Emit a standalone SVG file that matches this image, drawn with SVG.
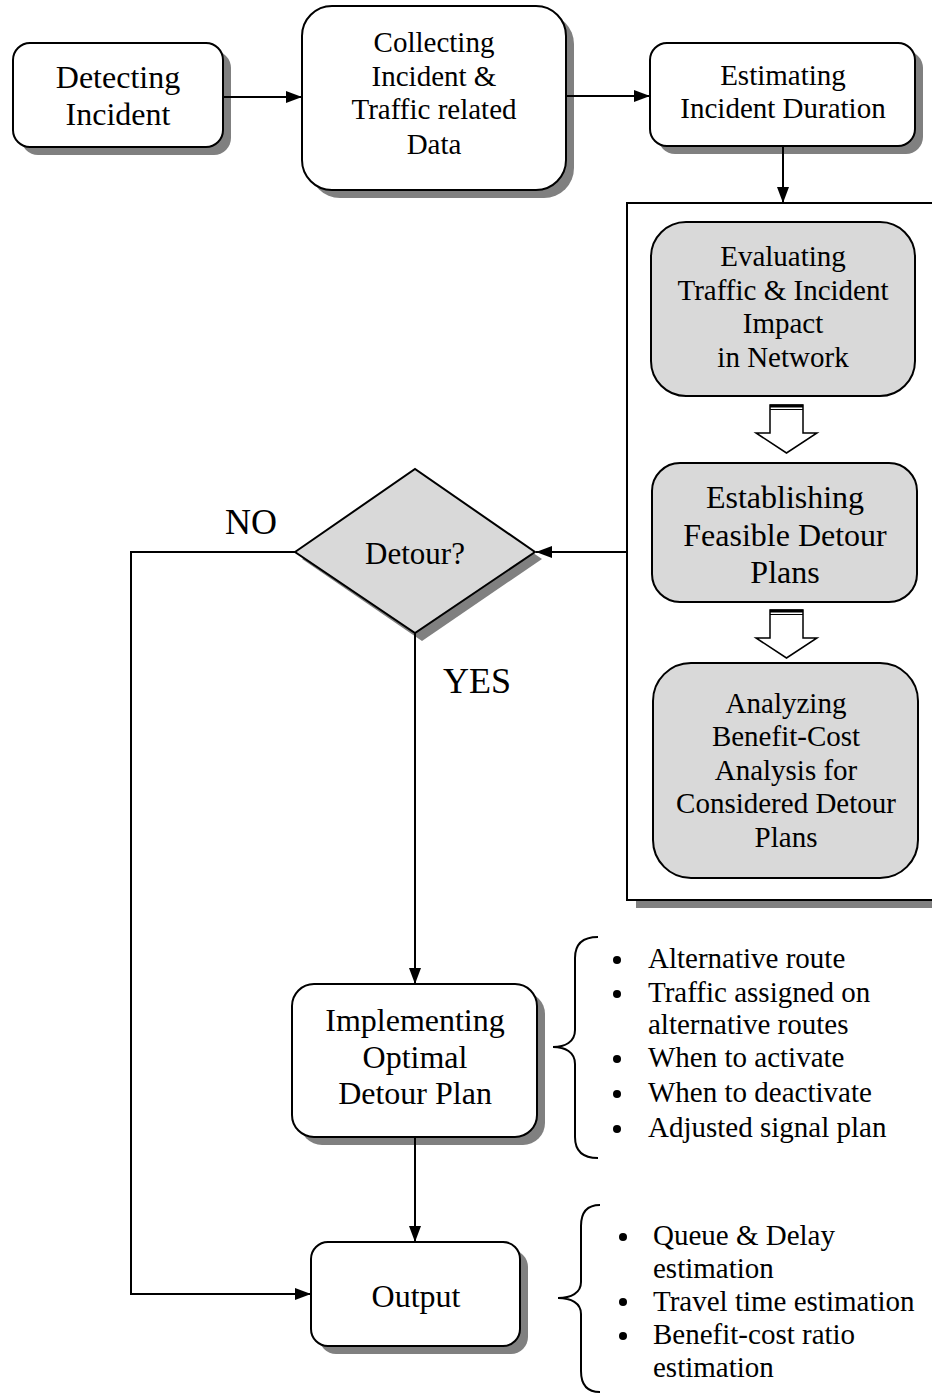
<svg xmlns="http://www.w3.org/2000/svg" width="932" height="1393" viewBox="0 0 932 1393" font-family="Liberation Serif, Times New Roman, serif">
  <style>
    text { fill: #000; text-anchor: middle; }
    .box { fill: #fff; stroke: #000; stroke-width: 2; }
    .gbox { fill: #d9d9d9; stroke: #000; stroke-width: 2; }
    .shadow { fill: #808080; stroke: none; }
    .line { fill: none; stroke: #000; stroke-width: 2; }
    .hollow { fill: #fff; stroke: #000; stroke-width: 1.5; }
    .bul { text-anchor: start; font-size: 29px; }
  </style>
  <defs>
    <marker id="arrow" markerWidth="16" markerHeight="12" refX="16" refY="6" orient="auto" markerUnits="userSpaceOnUse">
      <path d="M0,0 L16,6 L0,12 Z" fill="#000"/>
    </marker>
  </defs>

  <!-- drop shadows -->
  <g id="shadows">
    <rect class="shadow" x="21" y="51" width="210" height="104" rx="17"/>
    <rect class="shadow" x="310" y="14" width="264" height="184" rx="30"/>
    <rect class="shadow" x="658" y="51" width="265" height="103" rx="17"/>
    <rect class="shadow" x="636" y="211" width="310" height="697"/>
    <polygon class="shadow" points="302,559 422,477 542,559 422,641"/>
    <rect class="shadow" x="300" y="992" width="245" height="153" rx="22"/>
    <rect class="shadow" x="319" y="1250" width="209" height="104" rx="17"/>
  </g>

  <!-- container holding the evaluation steps -->
  <g id="analysis-panel">
    <rect x="627" y="203" width="320" height="697" fill="#fff" stroke="#000" stroke-width="2"/>
  </g>

  <!-- connectors -->
  <g id="connectors">
    <line class="line" x1="223" y1="97" x2="302" y2="97" marker-end="url(#arrow)"/>
    <line class="line" x1="566" y1="96" x2="650" y2="96" marker-end="url(#arrow)"/>
    <line class="line" x1="783" y1="146" x2="783" y2="203" marker-end="url(#arrow)"/>
    <line class="line" x1="627" y1="552" x2="536" y2="552" marker-end="url(#arrow)"/>
    <polyline class="line" points="295,552 131,552 131,1294 311,1294" marker-end="url(#arrow)"/>
    <line class="line" x1="415" y1="633" x2="415" y2="984" marker-end="url(#arrow)"/>
    <line class="line" x1="415" y1="1137" x2="415" y2="1242" marker-end="url(#arrow)"/>
    <!-- hollow block arrows inside the panel -->
    <g id="block-arrow-1">
      <polygon class="hollow" points="770,405 803,405 803,433 817,433 786.5,453 756,433 770,433"/>
      <line x1="770" y1="406" x2="803" y2="406" stroke="#000" stroke-width="3"/>
      <line x1="770" y1="409.5" x2="803" y2="409.5" stroke="#000" stroke-width="1.2"/>
    </g>
    <g id="block-arrow-2">
      <polygon class="hollow" points="770,610 803,610 803,638 817,638 786.5,658 756,638 770,638"/>
      <line x1="770" y1="611" x2="803" y2="611" stroke="#000" stroke-width="3"/>
      <line x1="770" y1="614.5" x2="803" y2="614.5" stroke="#000" stroke-width="1.2"/>
    </g>
  </g>

  <g id="detecting">
    <rect class="box" x="13" y="43" width="210" height="104" rx="17"/>
    <text font-size="32" x="118" y="88">Detecting</text>
    <text font-size="32" x="118" y="125">Incident</text>
  </g>

  <g id="collecting">
    <rect class="box" x="302" y="6" width="264" height="184" rx="30"/>
    <text font-size="29" x="434" y="52">Collecting</text>
    <text font-size="29" x="434" y="86">Incident &amp;</text>
    <text font-size="29" x="434" y="119">Traffic related</text>
    <text font-size="29" x="434" y="154">Data</text>
  </g>

  <g id="estimating">
    <rect class="box" x="650" y="43" width="265" height="103" rx="17"/>
    <text font-size="29" x="783" y="85">Estimating</text>
    <text font-size="29" x="783" y="118">Incident Duration</text>
  </g>

  <g id="evaluating">
    <rect class="gbox" x="651" y="222" width="264" height="174" rx="35"/>
    <text font-size="29" x="783" y="266">Evaluating</text>
    <text font-size="29" x="783" y="300">Traffic &amp; Incident</text>
    <text font-size="29" x="783" y="333">Impact</text>
    <text font-size="29" x="783" y="367">in Network</text>
  </g>

  <g id="establishing">
    <rect class="gbox" x="652" y="463" width="265" height="139" rx="28"/>
    <text font-size="32" x="785" y="508">Establishing</text>
    <text font-size="32" x="785" y="546">Feasible Detour</text>
    <text font-size="32" x="785" y="583">Plans</text>
  </g>

  <g id="analyzing">
    <rect class="gbox" x="653" y="663" width="265" height="215" rx="38"/>
    <text font-size="29" x="786" y="713">Analyzing</text>
    <text font-size="29" x="786" y="746">Benefit-Cost</text>
    <text font-size="29" x="786" y="780">Analysis for</text>
    <text font-size="29" x="786" y="813">Considered Detour</text>
    <text font-size="29" x="786" y="847">Plans</text>
  </g>

  <g id="detour-decision">
    <polygon class="gbox" points="295,552 415,469 535,552 415,633"/>
    <text font-size="31" x="415" y="564">Detour?</text>
  </g>

  <g id="branch-labels">
    <text font-size="36" x="251" y="534">NO</text>
    <text font-size="36" x="477" y="693">YES</text>
  </g>

  <g id="implementing">
    <rect class="box" x="292" y="984" width="245" height="153" rx="22"/>
    <text font-size="32" x="415" y="1031">Implementing</text>
    <text font-size="32" x="415" y="1068">Optimal</text>
    <text font-size="32" x="415" y="1104">Detour Plan</text>
  </g>

  <g id="output">
    <rect class="box" x="311" y="1242" width="209" height="104" rx="17"/>
    <text font-size="32" x="416" y="1307">Output</text>
  </g>

  <g id="plan-details">
    <path class="line" d="M598,937 C583,937 575,944 575,958 L575,1030 C575,1042 565,1047 553,1047 C565,1047 575,1052 575,1064 L575,1137 C575,1151 583,1158 598,1158"/>
    <circle cx="617" cy="960" r="4"/>
    <circle cx="617" cy="994" r="4"/>
    <circle cx="617" cy="1059" r="4"/>
    <circle cx="617" cy="1094" r="4"/>
    <circle cx="617" cy="1129" r="4"/>
    <text class="bul" x="648" y="968">Alternative route</text>
    <text class="bul" x="648" y="1002">Traffic assigned on</text>
    <text class="bul" x="648" y="1034">alternative routes</text>
    <text class="bul" x="648" y="1067">When to activate</text>
    <text class="bul" x="648" y="1102">When to deactivate</text>
    <text class="bul" x="648" y="1137">Adjusted signal plan</text>
  </g>

  <g id="output-details">
    <path class="line" d="M600,1205 C587,1205 581,1212 581,1226 L581,1282 C581,1293 571,1298 558,1298 C571,1298 581,1303 581,1314 L581,1371 C581,1385 587,1392 600,1392"/>
    <circle cx="623" cy="1237" r="4"/>
    <circle cx="623" cy="1302" r="4"/>
    <circle cx="623" cy="1336" r="4"/>
    <text class="bul" x="653" y="1245">Queue &amp; Delay</text>
    <text class="bul" x="653" y="1278">estimation</text>
    <text class="bul" x="653" y="1311">Travel time estimation</text>
    <text class="bul" x="653" y="1344">Benefit-cost ratio</text>
    <text class="bul" x="653" y="1377">estimation</text>
  </g>
</svg>
